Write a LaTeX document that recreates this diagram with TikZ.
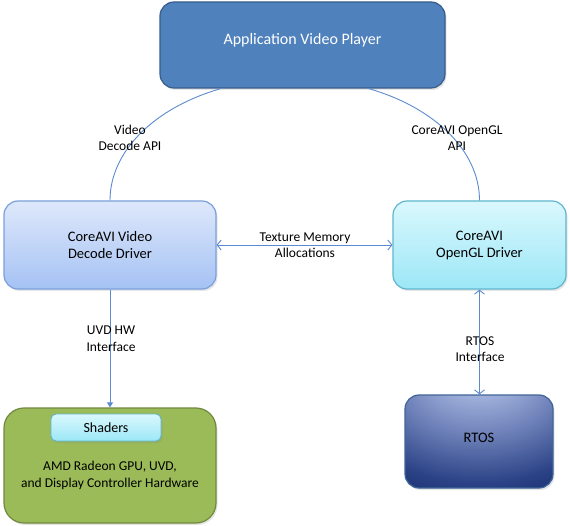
\documentclass[tikz,border=0pt]{standalone}
\usepackage{fontspec}
\setmainfont{Carlito}
\usetikzlibrary{arrows.meta,shadows}
\definecolor{appfill}{HTML}{4F81BD}
\definecolor{appdraw}{HTML}{385D8A}
\definecolor{linkc}{HTML}{5B8BCF}
\definecolor{dectop}{HTML}{DEE8FB}
\definecolor{decbot}{HTML}{A5C2F4}
\definecolor{decdraw}{HTML}{7A9FDA}
\definecolor{gltop}{HTML}{DAF8FD}
\definecolor{glbot}{HTML}{9CE7F7}
\definecolor{gldraw}{HTML}{5FB6CE}
\definecolor{gpufill}{HTML}{9BBB59}
\definecolor{gpudraw}{HTML}{71893F}
\definecolor{rtosdraw}{HTML}{3F6597}
\definecolor{rA}{HTML}{C0CCEB}
\definecolor{rB}{HTML}{A3B3DD}
\definecolor{rC}{HTML}{6D80B8}
\definecolor{rD}{HTML}{2B4386}
\definecolor{rE}{HTML}{0E2463}
\pgfdeclareradialshading{rtosshade}{\pgfpoint{0bp}{45bp}}{color(0bp)=(rA); color(12bp)=(rB); color(26bp)=(rC); color(42bp)=(rD); color(56bp)=(rE); color(75bp)=(rE)}
\tikzset{
  box/.style={rectangle, rounded corners=14pt, line width=1.2pt, align=center,
    font=\fontsize{14.5}{17}\selectfont, inner sep=0pt,
    drop shadow={opacity=0.2, shadow xshift=1.5pt, shadow yshift=-2pt}},
  link/.style={draw=linkc, line width=0.9pt},
  lbl/.style={align=center, font=\fontsize{13.5}{16.5}\selectfont, text=black},
  barb/.style={{Straight Barb[length=4pt,width=10pt]}-{Straight Barb[length=4pt,width=10pt]}}
}
\begin{document}
\begin{tikzpicture}[x=1pt,y=-1pt]
\useasboundingbox (0,0) rectangle (570,526);
\node[box, fill=appfill, draw=appdraw, minimum width=285pt, minimum height=86pt] (app) at (302.5,45) {};
\node[text=white, font=\fontsize{16}{19}\selectfont] (apptxt) at (302.5,40) {Application Video Player};
\node[box, top color=dectop, bottom color=decbot, draw=decdraw, minimum width=212pt, minimum height=88pt] (dec) at (110,245) {CoreAVI Video\\Decode Driver};
\node[box, top color=gltop, bottom color=glbot, draw=gldraw, minimum width=173pt, minimum height=88pt] (gl) at (479.5,245) {CoreAVI\\OpenGL Driver};
\node[box, fill=gpufill, draw=gpudraw, rounded corners=20pt, minimum width=212pt, minimum height=115pt] (gpu) at (110,465.5) {};
\node[align=center, font=\fontsize{13.5}{17}\selectfont] (gputxt) at (110,475.5) {AMD Radeon GPU, UVD,\\and Display Controller Hardware};
\node[box, top color=gltop, bottom color=glbot, draw=gldraw, rounded corners=5pt, line width=0.9pt, minimum width=110pt, minimum height=27pt, font=\fontsize{14}{17}\selectfont] (sh) at (106,427.5) {Shaders};
\node[box, shading=rtosshade, draw=rtosdraw, minimum width=148pt, minimum height=93pt] (rtos) at (479,441.5) {};
\node[font=\fontsize{14.5}{17}\selectfont] (rtostxt) at (479,438) {RTOS};

\draw[link] (dec.north) arc[start angle=180, end angle=113.4, x radius=184.75pt, y radius=122pt];
\draw[link] (gl.north) arc[start angle=0, end angle=66.6, x radius=184.75pt, y radius=122pt];
\draw[link, barb] (dec.east) -- (gl.west);
\draw[link, -{Triangle[length=5pt,width=6pt]}] (dec.south) -- (dec.south |- gpu.north);
\draw[link, barb] (gl.south) -- (gl.south |- rtos.north);

\node[lbl] (l1) at (130,138) {Video\\Decode API};
\node[lbl] (l2) at (457,138) {CoreAVI OpenGL\\API};
\node[lbl] (l3) at (305,245) {Texture Memory\\Allocations};
\node[lbl] (l4) at (111,338.5) {UVD HW\\Interface};
\node[lbl] (l5) at (480,349) {RTOS\\Interface};
\end{tikzpicture}
\end{document}
